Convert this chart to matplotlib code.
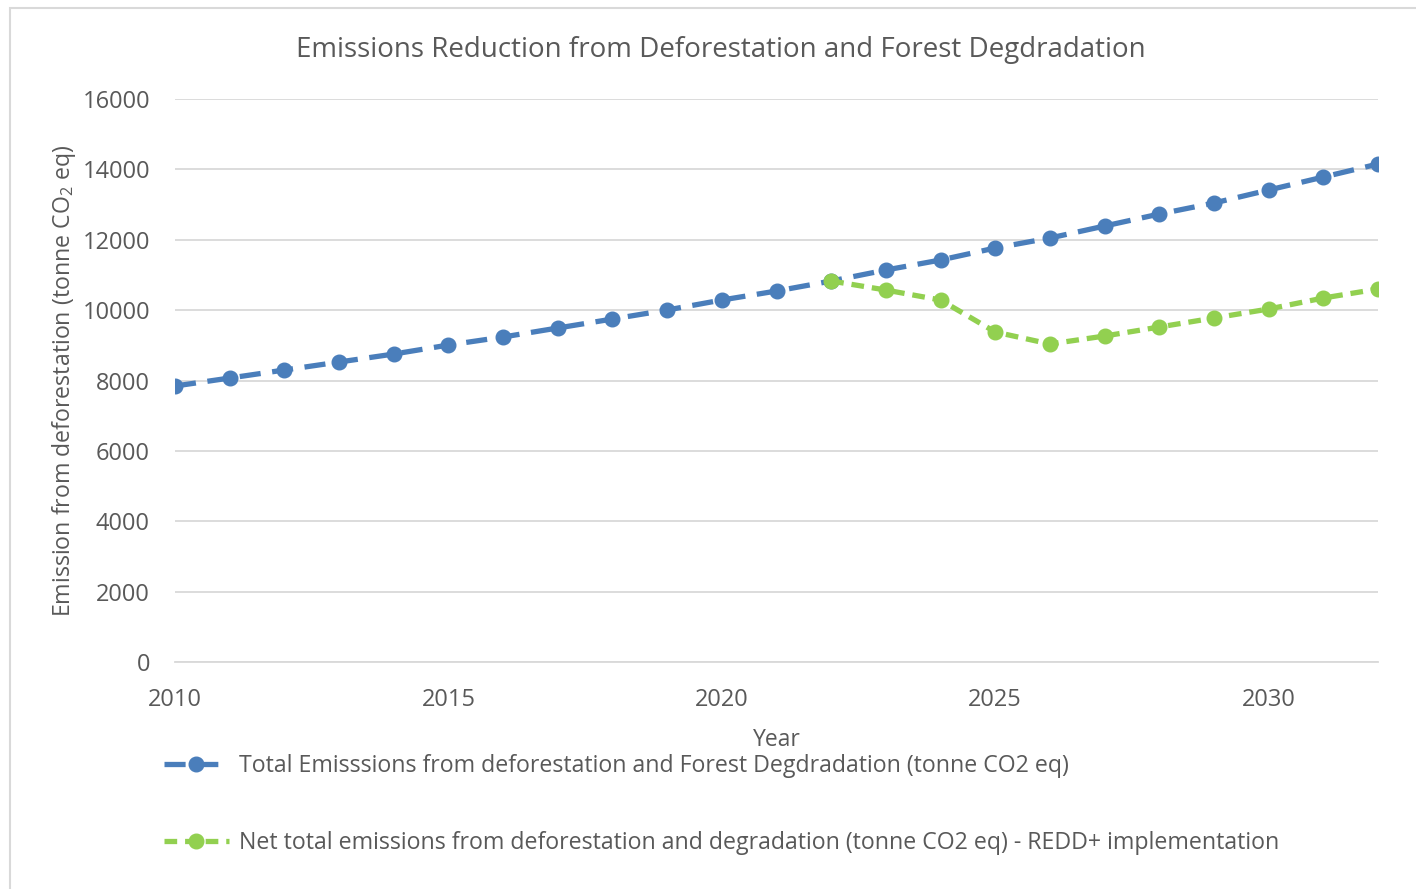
import matplotlib
matplotlib.use("Agg")
import matplotlib.pyplot as plt
from matplotlib.patches import Rectangle

years = list(range(2010, 2033))
total_emissions = [7843, 8070, 8298, 8525, 8752, 9008, 9236, 9492, 9747, 10003,
                   10287, 10543, 10827, 11140, 11424, 11765, 12049, 12390, 12731,
                   13044, 13413, 13782, 14152]
redd_years = list(range(2022, 2033))
net_emissions = [10827, 10571, 10287, 9378, 9037, 9264, 9520, 9776, 10031, 10344, 10600]
yticks = [0, 2000, 4000, 6000, 8000, 10000, 12000, 14000, 16000]
xticks = [2010, 2015, 2020, 2025, 2030]

title = "Emissions Reduction from Deforestation and Forest Degdradation"
label_total = "Total Emisssions from deforestation and Forest Degdradation (tonne CO2 eq)"
label_net = "Net total emissions from deforestation and degradation (tonne CO2 eq) - REDD+ implementation"

FONT = "Open Sans"
plt.rcParams['font.family'] = [FONT, 'DejaVu Sans']
plt.rcParams['mathtext.fontset'] = 'custom'
plt.rcParams['mathtext.rm'] = FONT
plt.rcParams['mathtext.it'] = FONT
plt.rcParams['mathtext.default'] = 'rm'

W, H = 1416, 889
fig = plt.figure(figsize=(W / 100, H / 100), dpi=100)
fig.patches.append(Rectangle((10 / W, -0.1), 1.2, 1 - 8 / H + 0.1, transform=fig.transFigure,
                             fill=False, edgecolor="#d9d9d9", linewidth=1.5))

ax = fig.add_axes([175 / W, 1 - 662 / H, (1378 - 175) / W, (662 - 99) / H])
grey = "#595959"
blue = "#4a7ebb"
green = "#92d050"

ax.plot(years, total_emissions, color=blue, linewidth=3.8, dashes=(4, 2.2),
        marker="o", markersize=10.5, label=label_total, zorder=3)
ax.plot(redd_years, net_emissions, color=green, linewidth=3.8, dashes=(2.4, 1.5),
        marker="o", markersize=10.5, label=label_net, zorder=4)

ax.set_xlim(2010, 2032)
ax.set_ylim(0, 16000)
ax.set_yticks(yticks)
ax.set_xticks(xticks)
ax.grid(axis="y", color="#d9d9d9", linewidth=1.3)
ax.set_axisbelow(True)
for s in ["top", "right", "left"]:
    ax.spines[s].set_visible(False)
ax.spines["bottom"].set_color("#d9d9d9")
ax.spines["bottom"].set_linewidth(1.3)
ax.tick_params(axis="both", length=0, labelsize=17, labelcolor=grey)
ax.tick_params(axis="y", pad=18)
ax.tick_params(axis="x", pad=18.5)

fig.text(721 / W, 1 - 50 / H, title, fontsize=20, color=grey, ha="center", va="center")
ax.set_xlabel("Year", fontsize=16.5, color=grey, labelpad=12)
ax.set_ylabel(r"Emission from deforestation (tonne CO$_2$ eq)", fontsize=16.7, color=grey, labelpad=3)

leg = fig.legend(loc="upper left", bbox_to_anchor=(143 / W, 1 - 733 / H), frameon=False,
                 fontsize=16.7, labelcolor=grey, handlelength=2.8, handletextpad=0.45,
                 labelspacing=2.3)

fig.savefig("out.png", dpi=100)
